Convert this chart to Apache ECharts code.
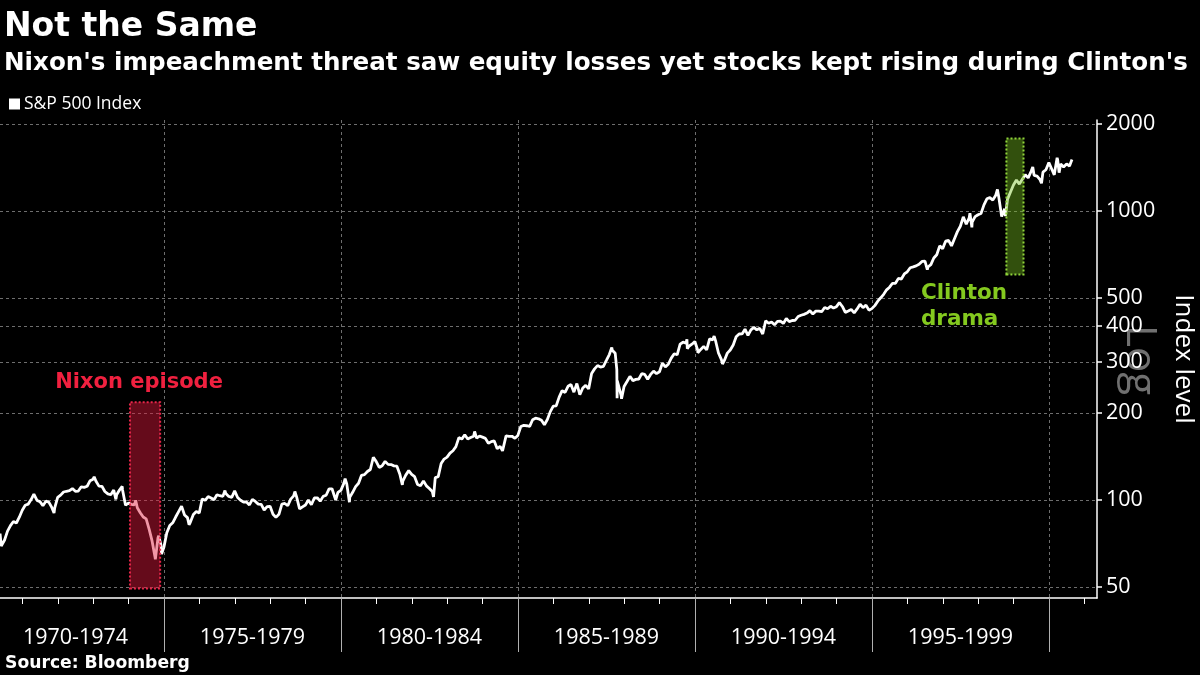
<!DOCTYPE html>
<html>
<head>
<meta charset="utf-8">
<script src="https://cdn.jsdelivr.net/npm/echarts@6/dist/echarts.min.js"></script>
<style>
html,body{margin:0;padding:0;background:#000;}
#chart{width:1200px;height:675px;}
</style>
</head>
<body>
<div id="chart"></div>
<script>
// ---------------- data ----------------
const seriesName = 'S&P 500 Index';
const firstMonth = [1970, 6]; // month-end closes start June 1970

const close1970s = [
  72.72, 78.05, 81.52, 84.21, 83.25, 87.20, 92.15,
  95.88, 96.75, 100.31, 103.95, 99.63, 98.70, 95.58, 99.03, 98.34, 94.23, 93.99, 102.09,
  103.94, 106.57, 107.20, 107.67, 109.53, 107.14, 107.39, 111.09, 110.55, 111.58, 116.67, 118.05,
  116.03, 111.68, 111.52, 106.97, 104.95, 104.26, 108.22, 104.25, 108.43, 108.29, 95.96, 97.55,
  96.57, 96.22, 93.98, 90.31, 87.28, 86.00, 79.31, 72.15, 63.54, 73.90, 69.97, 68.56,
  76.98, 81.59, 83.36, 87.30, 91.15, 95.19, 88.75, 86.88, 83.87, 89.04, 91.24, 90.19,
  100.86, 99.71, 102.77, 101.64, 100.18, 104.28, 103.44, 102.91, 105.24, 102.90, 102.10, 107.46,
  102.03, 99.82, 98.42, 98.44, 96.12, 100.48, 98.85, 96.77, 96.53, 92.34, 94.83, 95.10,
  89.25, 87.04, 89.21, 96.83, 97.24, 95.53, 100.68, 103.29, 102.54, 93.15, 94.70, 96.11,
  99.93, 96.28, 101.59, 101.76, 99.08, 102.91, 103.81, 109.32, 109.32, 101.82, 106.16, 107.94
];
const close1980s = [
  114.16, 113.66, 102.09, 106.29, 111.24, 114.24, 121.67, 122.38, 125.46, 127.47, 140.52, 135.76,
  129.55, 131.27, 136.00, 132.81, 132.59, 131.21, 130.92, 122.79, 116.18, 121.89, 126.35, 122.55,
  120.40, 113.11, 111.96, 116.44, 111.88, 109.61, 107.09, 119.51, 120.42, 133.71, 138.54, 140.64,
  145.30, 148.06, 152.96, 164.42, 162.39, 168.11, 162.56, 164.40, 166.07, 163.55, 166.40, 164.93,
  163.41, 157.06, 159.18, 160.05, 150.55, 153.18, 150.66, 166.68, 166.10, 166.09, 163.58, 167.24,
  179.63, 181.18, 180.66, 179.83, 189.55, 191.85, 190.92, 188.63, 182.08, 189.82, 202.17, 211.28,
  211.78, 226.92, 238.90, 235.52, 247.35, 250.84, 236.12, 252.93, 231.32, 243.98, 249.22, 242.17,
  274.08, 284.20, 291.70, 288.36, 290.10, 304.00, 318.66, 329.80, 321.83, 251.79, 230.30, 247.08,
  257.07, 267.82, 258.89, 261.33, 262.16, 273.50, 272.02, 261.52, 271.91, 278.97, 273.70, 277.72,
  297.47, 288.86, 294.87, 309.64, 320.52, 317.98, 346.08, 351.45, 349.15, 340.36, 345.99, 353.40
];
const close1990s = [
  329.08, 331.89, 339.94, 330.80, 361.23, 358.02, 356.15, 322.56, 306.05, 304.00, 322.22, 330.22,
  343.93, 367.07, 375.22, 375.35, 389.83, 371.16, 387.81, 395.43, 387.86, 392.46, 375.22, 417.09,
  408.79, 412.70, 403.69, 414.95, 415.35, 408.14, 424.21, 414.03, 417.80, 418.68, 431.35, 435.71,
  438.78, 443.38, 451.67, 440.19, 450.19, 450.53, 448.13, 463.56, 458.93, 467.83, 461.79, 466.45,
  481.61, 467.14, 445.77, 450.91, 456.50, 444.27, 458.26, 475.49, 462.69, 472.35, 453.69, 459.27,
  470.42, 487.39, 500.71, 514.71, 533.40, 544.75, 562.06, 561.88, 584.41, 581.50, 605.37, 615.93,
  636.02, 640.43, 645.50, 654.17, 669.12, 670.63, 639.95, 651.99, 687.31, 705.27, 757.02, 740.74,
  786.16, 790.82, 757.12, 801.34, 848.28, 885.14, 954.31, 899.47, 947.28, 914.62, 955.40, 970.43,
  980.28, 1049.34, 1101.75, 1111.75, 1090.82, 1133.84, 1120.67, 957.28, 1017.01, 1098.67, 1163.63, 1229.23,
  1279.64, 1238.33, 1286.37, 1335.18, 1301.84, 1372.71, 1328.72, 1320.41, 1282.71, 1362.93, 1388.91, 1469.25
];
const close2000 = [1394.46, 1366.42, 1498.58, 1452.43, 1420.60, 1454.60, 1430.83];

// intra-month highs / lows and the first / last points
const extraDates = [
  '1970-05-14', '1970-05-26', '1971-04-28', '1971-11-23', '1973-01-11', '1973-08-22',
  '1973-10-26', '1974-03-13', '1974-10-03', '1974-11-07', '1974-12-06', '1975-07-15',
  '1975-09-16', '1976-09-21', '1978-03-06', '1978-09-12', '1979-11-07', '1980-02-13',
  '1980-03-27', '1981-09-25', '1982-08-12', '1983-10-10', '1984-07-24', '1987-08-25',
  '1987-10-16', '1987-10-19', '1987-10-21', '1987-12-04', '1989-10-09', '1989-10-13',
  '1990-01-30', '1990-07-16', '1990-10-11', '1994-02-02', '1996-07-24', '1997-10-07',
  '1997-10-27', '1998-07-17', '1998-10-08', '1999-07-16', '1999-10-15', '2000-01-14',
  '2000-02-25', '2000-03-24', '2000-04-14', '2000-08-25'
];
const extraValues = [
  76.5, 69.29, 104.77, 90.16, 120.24, 100.53,
  111.38, 99.74, 62.28, 75.21, 65.01, 95.61,
  82.09, 107.83, 86.90, 106.99, 99.87, 118.44,
  98.22, 112.77, 102.42, 172.65, 147.82, 336.77,
  282.70, 224.84, 258.38, 223.92, 359.80, 333.65,
  322.98, 368.95, 295.46, 482.00, 626.65, 983.12,
  876.99, 1186.75, 959.44, 1418.78, 1247.41, 1465.15,
  1333.36, 1527.46, 1356.56, 1506.45
];

const periodLabels = ['1970-1974', '1975-1979', '1980-1984', '1985-1989', '1990-1994', '1995-1999'];
const periodStarts = [1970, 1975, 1980, 1985, 1990, 1995];
const yTicks = [50, 100, 200, 300, 400, 500, 1000, 2000];

const nixonSpan = ['1974-01-15', '1974-11-22'];
const nixonRange = [49.4, 218];
const clintonSpan = ['1998-10-18', '1999-04-12'];
const clintonRange = [603, 1780];

// ---------------- helpers ----------------
function yearFrac(y, m, d) { return y + (m - 1) / 12 + (d - 1) / 365.25; }
function parseDate(s) { const p = s.split('-').map(Number); return yearFrac(p[0], p[1], p[2]); }
const lg = v => Math.log10(v);

const points = [];
const monthly = close1970s.concat(close1980s, close1990s, close2000);
monthly.forEach((v, i) => {
  const idx = (firstMonth[1] - 1) + i;
  const y = firstMonth[0] + Math.floor(idx / 12);
  const m = (idx % 12) + 1;
  points.push([y + m / 12 - 0.004, lg(v)]);
});
extraDates.forEach((d, i) => points.push([parseDate(d), lg(extraValues[i])]));
points.sort((a, b) => a[0] - b[0]);

const xMin = 1970.367, xMax = 2001.356;
const yearTicks = [];
for (let y = 1971; y <= 2001; y++) yearTicks.push(y);
const separators = periodStarts.slice(1).concat([2000]);
const labelPos = periodStarts.map(s => s + 2.5);

const chart = echarts.init(document.getElementById('chart'));
chart.setOption({
  backgroundColor: '#000',
  animation: false,
  title: [
    { text: 'Not the Same', left: 4, top: 11, padding: 0,
      textStyle: { color: '#fff', fontFamily: 'DejaVu Sans', fontWeight: 'bold', fontSize: 33 } },
    { text: "Nixon's impeachment threat saw equity losses yet stocks kept rising during Clinton's", left: 4, top: 51, padding: 0,
      textStyle: { color: '#fff', fontFamily: 'DejaVu Sans', fontWeight: 'bold', fontSize: 24.6 } },
    { text: 'Source: Bloomberg', left: 5, top: 655, padding: 0,
      textStyle: { color: '#fff', fontFamily: 'DejaVu Sans', fontWeight: 'bold', fontSize: 17.2 } }
  ],
  legend: {
    left: 9, top: 95, padding: 0, itemWidth: 11, itemHeight: 11, itemGap: 10,
    data: [{ name: seriesName, icon: 'rect', itemStyle: { color: '#fff' } }],
    textStyle: { color: '#fff', fontFamily: 'Open Sans', fontSize: 17.5, padding: [0, 0, 0, -1] }
  },
  grid: { left: 0, right: 103, top: 120, bottom: 77, containLabel: false, outerBoundsMode: 'none' },
  xAxis: [
    { type: 'value', min: xMin, max: xMax, position: 'bottom',
      axisLine: { show: true, onZero: false, lineStyle: { color: '#fff', width: 1.5 } },
      axisTick: { show: true, customValues: yearTicks, length: 6, lineStyle: { color: '#fff', width: 1 } },
      axisLabel: { show: false }, splitLine: { show: false } },
    { type: 'value', min: xMin, max: xMax, position: 'bottom',
      axisLine: { show: false, onZero: false },
      axisTick: { show: true, customValues: separators, length: 54, lineStyle: { color: '#b0b0b0', width: 1 } },
      splitLine: { show: true, lineStyle: { color: '#6e6e6e', width: 1, type: [3, 3] } },
      axisLabel: { show: true, customValues: labelPos, margin: 29, color: '#fff', fontFamily: 'Open Sans', fontSize: 21.5,
        formatter: v => periodLabels[Math.round((v - 2.5 - periodStarts[0]) / 5)] } }
  ],
  yAxis: {
    type: 'value', min: lg(45.8), max: lg(2064), position: 'right',
    axisLine: { show: true, onZero: false, lineStyle: { color: '#fff', width: 1.5 } },
    axisTick: { show: true, customValues: yTicks.map(lg), length: 5, lineStyle: { color: '#fff', width: 1.5 } },
    axisLabel: { show: true, customValues: yTicks.map(lg), margin: 9, color: '#fff', fontFamily: 'Open Sans', fontSize: 21.5,
      formatter: v => String(Math.round(Math.pow(10, v))) },
    splitLine: { show: true, lineStyle: { color: '#6e6e6e', width: 1, type: [3, 3] } },
    name: 'Index level', nameLocation: 'middle', nameRotate: -90, nameGap: 73,
    nameTextStyle: { color: '#fff', fontFamily: 'Open Sans', fontSize: 26 }
  },
  graphic: [{
    type: 'text', x: 1139, y: 360, rotation: -Math.PI / 2, z: 0,
    style: { text: 'Log', fill: 'rgba(140,140,140,0.8)', font: '42px "Open Sans"', align: 'center', verticalAlign: 'middle' }
  }],
  series: [{
    name: seriesName, type: 'line', data: points, showSymbol: false, symbol: 'none',
    lineStyle: { color: '#fff', width: 2.8 }, itemStyle: { color: '#fff' }, z: 2,
    markArea: {
      silent: true, z: 10,
      data: [
        [{ xAxis: parseDate(nixonSpan[0]), yAxis: lg(nixonRange[0]),
           itemStyle: { color: 'rgba(225,25,60,0.45)', borderColor: '#e8264a', borderWidth: 2, borderType: 'dotted' },
           label: { show: true, position: 'top', distance: 8, offset: [-6, 0], formatter: 'Nixon episode',
             color: '#f0203f', fontFamily: 'DejaVu Sans', fontWeight: 'bold', fontSize: 21 } },
         { xAxis: parseDate(nixonSpan[1]), yAxis: lg(nixonRange[1]) }],
        [{ xAxis: parseDate(clintonSpan[0]), yAxis: lg(clintonRange[0]),
           itemStyle: { color: 'rgba(120,190,30,0.42)', borderColor: '#8fd43a', borderWidth: 2, borderType: 'dotted' },
           label: { show: true, position: 'bottom', distance: 5, align: 'left', offset: [-94, 0], lineHeight: 26,
             formatter: 'Clinton\ndrama', color: '#84c91f', fontFamily: 'DejaVu Sans', fontWeight: 'bold', fontSize: 21.5 } },
         { xAxis: parseDate(clintonSpan[1]), yAxis: lg(clintonRange[1]) }]
      ]
    }
  }]
});
</script>
</body>
</html>
